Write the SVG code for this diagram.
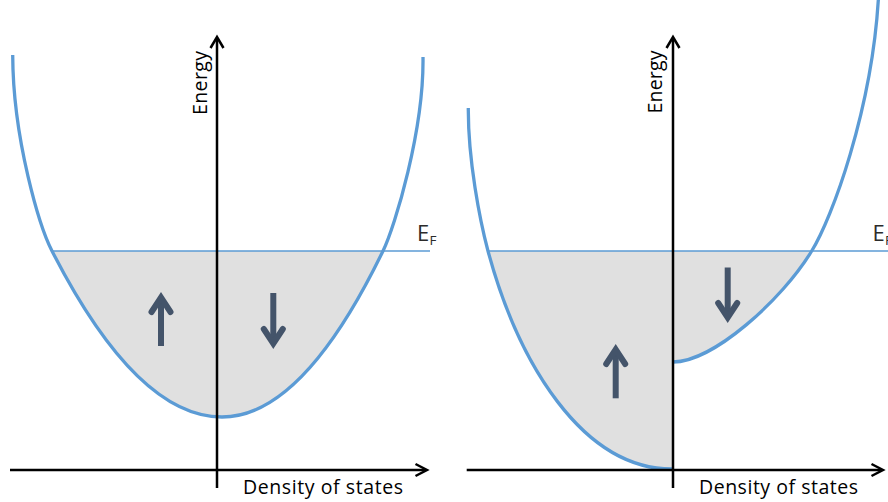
<svg xmlns="http://www.w3.org/2000/svg" width="888" height="502" viewBox="0 0 888 502">
<style>
.fill{fill:#e0e0e0;stroke:none}
.band{fill:none;stroke:#5b9bd5;stroke-width:3.3}
.ef{fill:none;stroke:#5b9bd5;stroke-width:1.5}
.axis{fill:none;stroke:#000;stroke-width:2.5}
.head{fill:none;stroke:#000;stroke-width:2.5;stroke-linejoin:miter}
.shaft{fill:none;stroke:#44546a;stroke-width:6;stroke-linecap:butt}
.wing{fill:none;stroke:#44546a;stroke-width:6;stroke-linecap:round;stroke-linejoin:miter}
.lbl{font-family:"Open Sans","Liberation Sans",sans-serif;font-size:19.5px;fill:#000}
.eflbl{font-family:"Open Sans","Liberation Sans",sans-serif;font-size:22px;fill:#2b2b2b}
</style>
<rect width="888" height="502" fill="#fff"/>
<g id="left-panel">
  <g id="left-fill">
    <path class="fill" d="M52,251 Q137,417 222,417 Q302.5,417 383,251 Z"/>
  </g>
  <g id="left-fermi">
    <line class="ef" x1="52" y1="251" x2="430" y2="251"/>
    <text class="eflbl" x="417" y="241">E<tspan x="429.5" y="244.5" font-size="13.5">F</tspan></text>
  </g>
  <g id="left-band">
    <path class="band" d="M12.7,55 C13,140 40,227.6 52,251 Q137,417 222,417 Q302.5,417 383,251 C395,226.3 424,130 423,57"/>
  </g>
  <g id="left-spin-up">
    <line class="shaft" x1="161" y1="346" x2="161" y2="298"/>
    <polyline class="wing" points="151.5,312 161,297.5 170.5,312"/>
  </g>
  <g id="left-spin-down">
    <line class="shaft" x1="273.3" y1="293" x2="273.3" y2="343"/>
    <polyline class="wing" points="263.8,329 273.3,343.5 282.8,329"/>
  </g>
</g>
<g id="right-panel">
  <g id="right-fill">
    <path class="fill" d="M488,251 C518,362 582,469 672,469 L673,469 L673,362 C713,362 782,300 811.7,251 Z"/>
  </g>
  <g id="right-fermi">
    <line class="ef" x1="488" y1="251" x2="888" y2="251"/>
    <text class="eflbl" x="872.5" y="241">E<tspan x="885" y="244.5" font-size="13.5">F</tspan></text>
  </g>
  <g id="right-band-up">
    <path class="band" d="M468.3,108 C468,160 480,221 488,251 C518,362 582,469 672,469"/>
  </g>
  <g id="right-band-down">
    <path class="band" d="M673,362 C713,362 782,300 811.7,251 C831.7,219 872,110 878.5,-3"/>
  </g>
  <g id="right-spin-up">
    <line class="shaft" x1="615.7" y1="398.3" x2="615.7" y2="350"/>
    <polyline class="wing" points="606.2,364 615.7,349.5 625.2,364"/>
  </g>
  <g id="right-spin-down">
    <line class="shaft" x1="727.7" y1="267.5" x2="727.7" y2="317"/>
    <polyline class="wing" points="718.2,303 727.7,317.5 737.2,303"/>
  </g>
</g>
<g id="connectors">
  <line class="axis" x1="217" y1="488" x2="217" y2="38"/>
  <polyline class="head" points="210.5,48 217,37 223.5,48"/>
  <line class="axis" x1="10" y1="470" x2="426" y2="470"/>
  <polyline class="head" points="415.5,464 427,470 415.5,476"/>
  <line class="axis" x1="673" y1="488" x2="673" y2="38"/>
  <polyline class="head" points="666.5,48 673,37 679.5,48"/>
  <line class="axis" x1="466.7" y1="470" x2="882" y2="470"/>
  <polyline class="head" points="871.5,464 883,470 871.5,476"/>
</g>
<g id="axis-labels">
  <text class="lbl" transform="translate(206.7,115) rotate(-90)" textLength="64">Energy</text>
  <text class="lbl" transform="translate(661.7,113.5) rotate(-90)" textLength="63">Energy</text>
  <text class="lbl" x="243" y="494" textLength="160">Density of states</text>
  <text class="lbl" x="699" y="494" textLength="159">Density of states</text>
</g>
</svg>
